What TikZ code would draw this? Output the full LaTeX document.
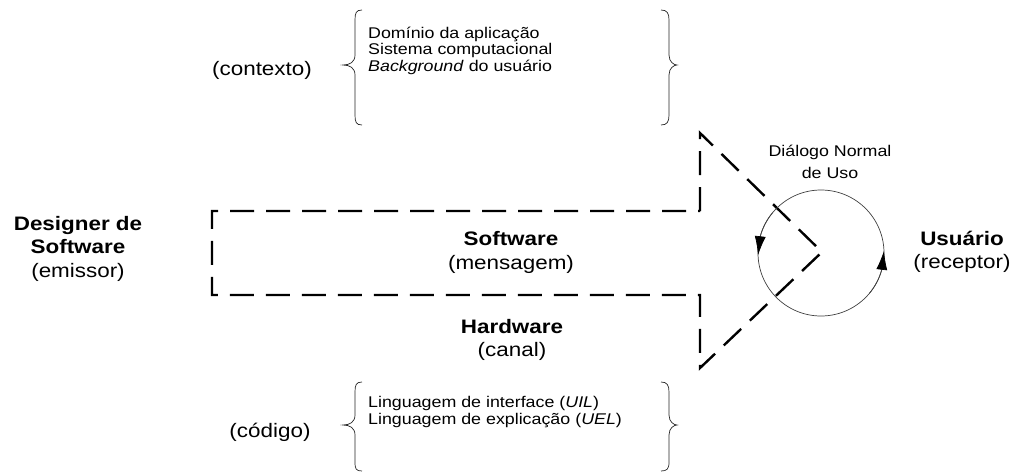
\documentclass[tikz,border=0pt]{standalone}
\usepackage{fontspec}
\setmainfont[FakeStretch=1.15]{Liberation Sans}
\usetikzlibrary{arrows.meta,bending}
\begin{document}
\begin{tikzpicture}[x=1pt,y=-1pt,
  big/.style={font=\fontsize{19.5}{23.5}\selectfont, align=center, inner sep=0pt},
  small/.style={font=\fontsize{15.5}{16.5}\selectfont, align=left, inner sep=0pt, anchor=west},
  dashline/.style={line width=2.4pt, dash pattern=on 24pt off 12pt, line join=miter},
  brace/.style={line width=0.7pt, draw=black!85},
  loopline/.style={line width=0.7pt, draw=black!75},
  looptip/.style={-{Latex[length=19pt,width=11pt,black,flex]}}
]
\useasboundingbox (0,0) rectangle (1016,474);

% dashed arrow (message / channel)
\draw[dashline] (700,211) -- (700,133) -- (822,252) -- (700,368) -- (700,295) -- (212,295) -- (212,211) -- cycle;

% dialogue loop
\coordinate (c) at (821,253);
\draw[loopline] (c) circle (63);
\draw[loopline, looptip] ([shift={(-140:63)}]c) arc (-140:-182:63);
\draw[loopline, looptip] ([shift={(40:63)}]c) arc (40:-2:63);

% braces (context)
\draw[brace] (362,10) .. controls (356,10) and (355,13) .. (355,20) -- (355,55)
  .. controls (355,62) and (350,65) .. (343,65) .. controls (350,65) and (355,68) .. (355,75)
  -- (355,115) .. controls (355,122) and (356,125) .. (362,125);
\draw[brace] (661,10) .. controls (667,10) and (669,13) .. (669,20) -- (669,55)
  .. controls (669,62) and (674,65) .. (677,65) .. controls (674,65) and (669,68) .. (669,75)
  -- (669,115) .. controls (669,122) and (667,125) .. (661,125);

% braces (code)
\draw[brace] (362,382) .. controls (356,382) and (355,385) .. (355,392) -- (355,415)
  .. controls (355,422) and (350,425) .. (343,425) .. controls (350,425) and (355,428) .. (355,435)
  -- (355,462) .. controls (355,469) and (356,471) .. (362,471);
\draw[brace] (661,382) .. controls (667,382) and (669,385) .. (669,392) -- (669,415)
  .. controls (669,422) and (674,425) .. (677,425) .. controls (674,425) and (669,428) .. (669,435)
  -- (669,462) .. controls (669,469) and (667,471) .. (661,471);

% texts
\node[big] (designer) at (78,248.5) {\textbf{Designer de}\\\textbf{Software}\\(emissor)};
\node[big] (usuario) at (962,252) {\textbf{Usuário}\\(receptor)};
\node[big] (software) at (511,252.5) {\textbf{Software}\\(mensagem)};
\node[big] (hardware) at (512,340) {\textbf{Hardware}\\(canal)};
\node[big] (contexto) at (262,70) {(contexto)};
\node[big] (codigo) at (270,432) {(código)};
\node[small, anchor=center, align=center, font=\fontsize{15.5}{22}\selectfont] (dialogo) at (830,162) {Diálogo Normal\\de Uso};
\node[small] (ctx) at (368,50.5) {Domínio da aplicação\\Sistema computacional\\\textit{Background} do usuário};
\node[small] (cod) at (368,412) {Linguagem de interface (\textit{UIL})\\Linguagem de explicação (\textit{UEL})};
\end{tikzpicture}
\end{document}
